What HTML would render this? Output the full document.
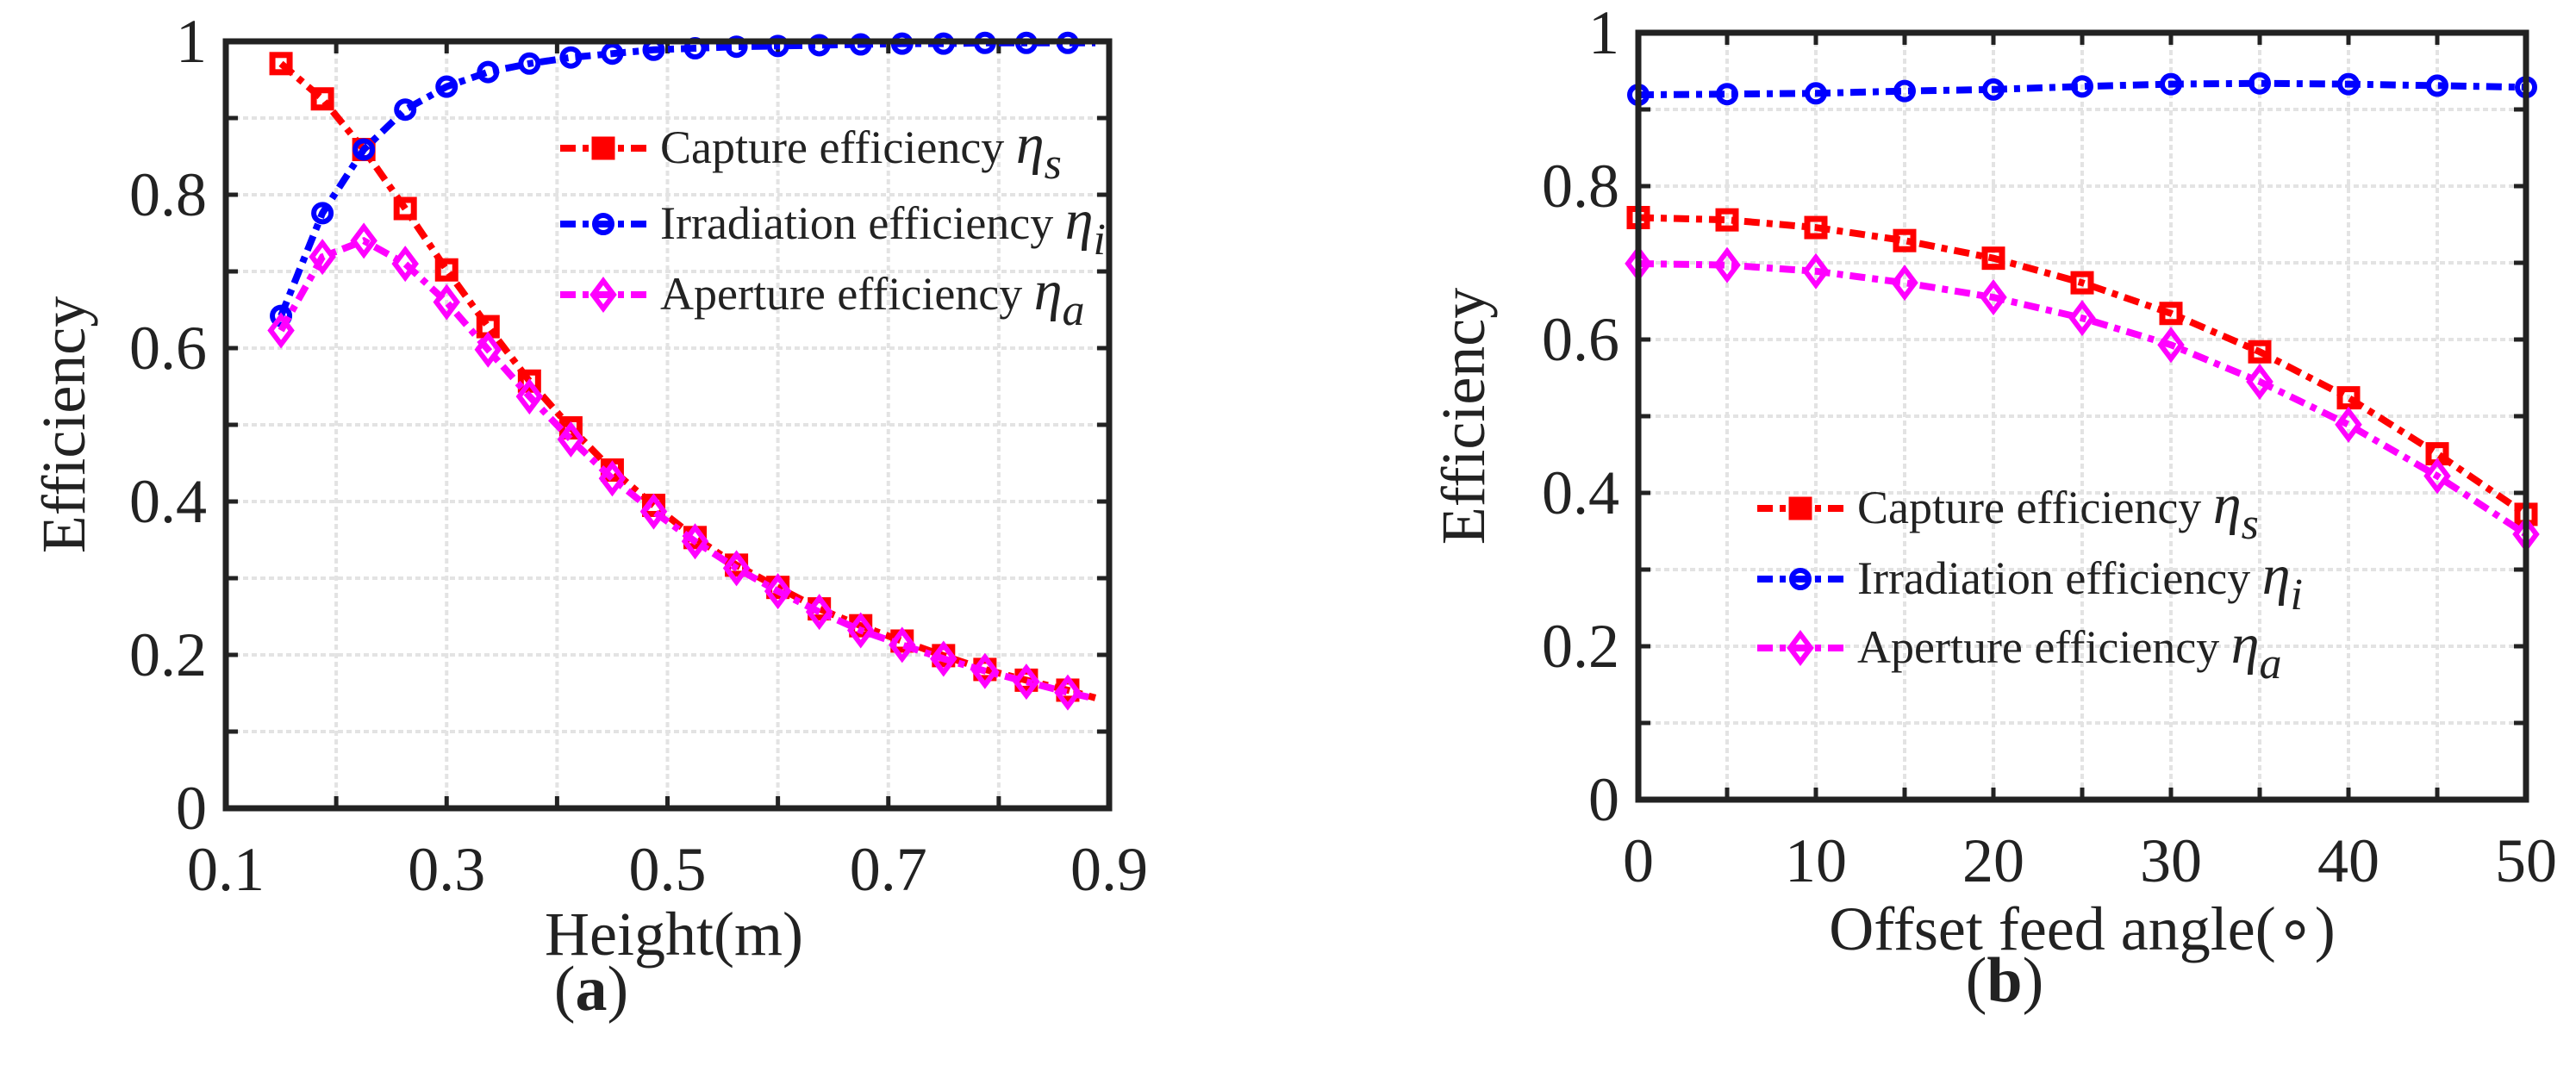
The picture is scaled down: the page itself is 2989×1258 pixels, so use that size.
<!DOCTYPE html>
<html><head><meta charset="utf-8"><style>
html,body{margin:0;padding:0;background:#fff;}
svg{display:block;}
text{font-family:"Liberation Serif",serif;fill:#222;}
</style></head>
<body>
<svg id="fig" width="2989" height="1258" viewBox="0 0 2989 1258" xmlns="http://www.w3.org/2000/svg" font-family="Liberation Serif, serif"></svg>
<script>
// ---- Panel (a) data ----
const heightsA = [0.15,0.1875,0.225,0.2625,0.3,0.3375,0.375,0.4125,0.45,0.4875,0.525,0.5625,0.6,0.6375,0.675,0.7125,0.75,0.7875,0.825,0.8625,0.8875];
const captureA = [0.971,0.925,0.859,0.782,0.702,0.628,0.557,0.496,0.441,0.395,0.353,0.317,0.288,0.260,0.238,0.218,0.199,0.181,0.167,0.154,0.144];
const irradA   = [0.642,0.776,0.859,0.911,0.941,0.960,0.971,0.979,0.984,0.989,0.991,0.993,0.994,0.995,0.996,0.997,0.997,0.998,0.998,0.998,0.998];
const apertA   = [0.623,0.719,0.740,0.710,0.660,0.598,0.537,0.481,0.430,0.387,0.348,0.313,0.283,0.256,0.232,0.213,0.195,0.179,0.165,0.151,0.143];
const xTicksA = ["0.1","0.3","0.5","0.7","0.9"];
const yTicks = ["0","0.2","0.4","0.6","0.8","1"];
// ---- Panel (b) data ----
const anglesB = [0,5,10,15,20,25,30,35,40,45,50];
const captureB = [0.759,0.756,0.746,0.729,0.706,0.674,0.634,0.584,0.524,0.451,0.372];
const irradB   = [0.919,0.920,0.921,0.924,0.926,0.930,0.933,0.934,0.933,0.931,0.929];
const apertB   = [0.699,0.697,0.689,0.674,0.655,0.628,0.593,0.545,0.489,0.422,0.346];
const xTicksB = ["0","10","20","30","40","50"];

const NS="http://www.w3.org/2000/svg";
const svg=document.getElementById('fig');
function el(tag,attrs,parent){const e=document.createElementNS(NS,tag);for(const k in attrs)e.setAttribute(k,attrs[k]);(parent||svg).appendChild(e);return e;}

const DASH="18 8 7 8";
function marker(g,type,x,y,color){
  let m;
  if(type==='sq') m=el('rect',{x:x-10,y:y-10,width:20,height:20,fill:'none',stroke:color,'stroke-width':7},g);
  else if(type==='ci') m=el('circle',{cx:x,cy:y,r:10,fill:'none',stroke:color,'stroke-width':6},g);
  else m=el('path',{d:`M${x} ${y-16}L${x+12} ${y}L${x} ${y+16}L${x-12} ${y}Z`,fill:'none',stroke:color,'stroke-width':6},g);
  return m;
}

function panel(o){
  const g=el('g',{});
  
  
  const sx=v=>o.L+(v-o.xmin)/(o.xmax-o.xmin)*(o.R-o.L);
  const sy=v=>o.B-v*(o.B-o.T);
  const grid=el('g',{},g);
  
  
  for(let i=1;i<10;i++){
    const y=sy(i/10);
    el('line',{x1:o.L,x2:o.R,y1:y,y2:y,stroke:'#e3e3e3','stroke-width':4,'stroke-dasharray':'6 4'},grid);
    el('line',{x1:o.L,x2:o.L+14,y1:y,y2:y,stroke:'#222','stroke-width':5},grid);
    el('line',{x1:o.R,x2:o.R-14,y1:y,y2:y,stroke:'#222','stroke-width':5},grid);
  }
  for(const v of o.xgrid){
    const x=sx(v);
    el('line',{x1:x,x2:x,y1:o.T,y2:o.B,stroke:'#e3e3e3','stroke-width':4,'stroke-dasharray':'6 4'},grid);
    el('line',{x1:x,x2:x,y1:o.B,y2:o.B-14,stroke:'#222','stroke-width':5},grid);
    el('line',{x1:x,x2:x,y1:o.T,y2:o.T+14,stroke:'#222','stroke-width':5},grid);
  }
  for(const s of o.series){
    const sg=el('g',{},g);
    
    
    const pts=o.xs.map((v,i)=>sx(v)+','+sy(s.data[i])).join(' ');
    el('polyline',{points:pts,fill:'none',stroke:s.color,'stroke-width':8,'stroke-dasharray':DASH},sg);
    const n=o.markerCount||o.xs.length;
    for(let i=0;i<n;i++){
      const m=marker(sg,s.mk,sx(o.xs[i]),sy(s.data[i]),s.color);
      
      
    }
  }
  const box=el('rect',{x:o.L,y:o.T,width:o.R-o.L,height:o.B-o.T,fill:'none',stroke:'#222','stroke-width':7},g);
  
  
  o.xticks.forEach(t=>{
    const tx=el('text',{x:sx(parseFloat(t)),y:o.B+95,'font-size':72,'text-anchor':'middle'},g);
    tx.textContent=t;
    
    
  });
  yTicks.forEach(t=>{
    const ty=el('text',{x:o.L-22,y:sy(parseFloat(t))+24,'font-size':72,'text-anchor':'end'},g);
    ty.textContent=t;
    
    
  });
  const xl=el('text',{x:o.xlx,y:o.xly,'font-size':72,'text-anchor':'middle'},g);
  xl.textContent=o.xlabel;
  
  
  const yl=el('text',{x:0,y:0,'font-size':72,'text-anchor':'middle',transform:`translate(${o.ylx},${(o.T+o.B)/2}) rotate(-90)`},g);
  yl.textContent='Efficiency';
  
  
  const cap=el('text',{x:o.capx,y:o.capy,'font-size':74,'text-anchor':'middle'},g);
  cap.innerHTML='(<tspan font-weight="bold">'+o.cap+'</tspan>)';
  
  
  const lg=el('g',{},g);
  
  
  const labels=[['Capture efficiency ','s'],['Irradiation efficiency ','i'],['Aperture efficiency ','a']];
  o.series.forEach((s,i)=>{
    const y=o.legY[i];
    const e=el('g',{},lg);
    
    
    el('line',{x1:o.legX,x2:o.legX+100,y1:y,y2:y,stroke:s.color,'stroke-width':8,'stroke-dasharray':DASH},e);
    const m=marker(e,s.mk,o.legX+50,y,s.color);
    if(s.mk==='sq') m.setAttribute('fill',s.color);
    const t=el('text',{x:o.legX+116,y:y+17,'font-size':54},e);
    t.innerHTML=labels[i][0]+'<tspan font-style="italic" font-size="66">η</tspan><tspan font-style="italic" font-size="52" dy="18">'+labels[i][1]+'</tspan>';
  });
}

panel({name:'chart-a-height',L:262,R:1287,T:48,B:938,xmin:0.1,xmax:0.9,
  xs:heightsA,markerCount:20,xgrid:[0.2,0.3,0.4,0.5,0.6,0.7,0.8],xticks:xTicksA,
  series:[{name:'capture-efficiency-series',data:captureA,color:'#ff0000',mk:'sq'},
          {name:'irradiation-efficiency-series',data:irradA,color:'#0000ff',mk:'ci'},
          {name:'aperture-efficiency-series',data:apertA,color:'#ff00ff',mk:'di'}],
  xlabel:'Height(m)',xlx:782,xly:1108,ylx:98,cap:'a',capx:686,capy:1172,
  legX:650,legY:[172,260,342]});
panel({name:'chart-b-offset-angle',L:1901,R:2931,T:38,B:928,xmin:0,xmax:50,
  xs:anglesB,xgrid:[5,10,15,20,25,30,35,40,45],xticks:xTicksB,
  series:[{name:'capture-efficiency-series',data:captureB,color:'#ff0000',mk:'sq'},
          {name:'irradiation-efficiency-series',data:irradB,color:'#0000ff',mk:'ci'},
          {name:'aperture-efficiency-series',data:apertB,color:'#ff00ff',mk:'di'}],
  xlabel:'Offset feed angle(∘)',xlx:2416,xly:1102,ylx:1722,cap:'b',capx:2326,capy:1162,
  legX:2039,legY:[590,672,752]});
</script>
</body></html>
